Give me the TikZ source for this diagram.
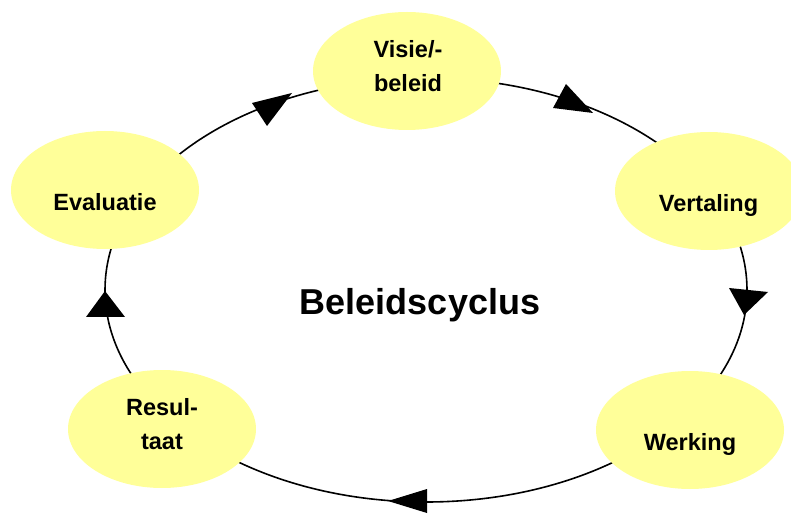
\documentclass[tikz,border=0pt]{standalone}
\usepackage{fontspec}
\setmainfont{Liberation Sans}
\usetikzlibrary{shapes.geometric}
\definecolor{pale}{HTML}{FFFF99}
\tikzset{
  blob/.style={ellipse, fill=pale, draw=none, minimum width=188pt, minimum height=118pt, inner sep=0pt},
  lbl/.style={font=\fontsize{23.5}{34}\selectfont\bfseries, align=center, inner sep=0pt},
  cyc/.style={line width=1.6pt, black},
  headfill/.style={fill=black}
}
\begin{document}
\begin{tikzpicture}[x=1pt,y=1pt]
\useasboundingbox (0,0) rectangle (791,514);
\coordinate (mid) at (426,224);
\draw[cyc] (mid) ellipse [x radius=321, y radius=212];
% arrowheads on the cycle
\fill[headfill] (252,411) -- (292,421) -- (267,388) -- cycle;
\fill[headfill] (566,430) -- (553,406) -- (593,401) -- cycle;
\fill[headfill] (729,226) -- (768,222) -- (744,199) -- cycle;
\fill[headfill] (388,13) -- (427,25) -- (427,1) -- cycle;
\fill[headfill] (105,223) -- (86,197) -- (125,197) -- cycle;
\node[blob] (visie) at (407,443) {};
\node[blob] (vertaling) at (709,323) {};
\node[blob] (werking) at (690,84) {};
\node[blob] (resultaat) at (162,85) {};
\node[blob] (evaluatie) at (105,324) {};
\node[lbl] (visietxt) at (408,448) {Visie/-\\beleid};
\node[lbl, anchor=base] (vertalingtxt) at (708.5,302) {Vertaling};
\node[lbl, anchor=base] (werkingtxt) at (690,64) {Werking};
\node[lbl] (resultaattxt) at (162,90) {Resul-\\taat};
\node[lbl, anchor=base] (evaluatietxt) at (105,303) {Evaluatie};
\node[font=\fontsize{36}{40}\selectfont\bfseries, anchor=base, inner sep=0pt] (title) at (420,200) {Beleidscyclus};
\end{tikzpicture}
\end{document}
